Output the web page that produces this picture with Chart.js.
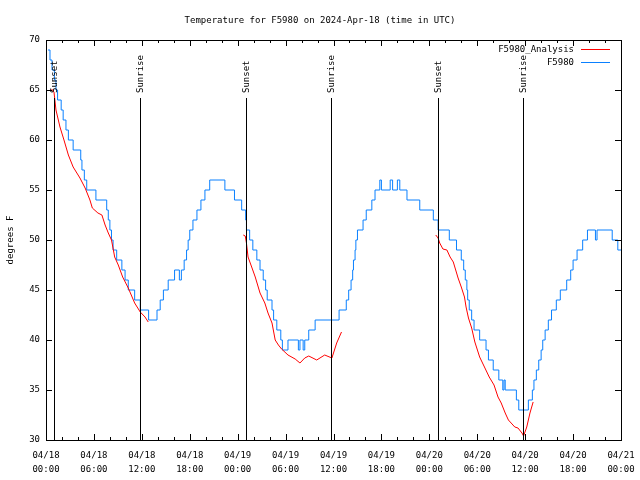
<!DOCTYPE html>
<html>
<head>
<meta charset="utf-8">
<script src="https://cdn.jsdelivr.net/npm/chart.js@4/dist/chart.umd.min.js"></script>
<style>
  html, body { margin: 0; padding: 0; background: #fff; }
</style>
</head>
<body>
<canvas id="tempChart" width="640" height="480"></canvas>
<script>
// hours since 04/18 00:00 UTC
var blueHours = [0.25, 0.5, 0.75, 1.05, 1.25, 1.45, 1.9, 2.15, 2.5, 2.8, 3.4, 4.35, 4.5, 4.8, 5.1,
  6.25, 7.6, 7.8, 8.0, 8.2, 8.4, 8.85, 9.5, 9.9, 10.3, 11.1, 11.8, 12.85, 13.9, 14.3, 14.7, 15.3,
  16.1, 16.7, 16.95, 17.3, 17.6, 17.8, 18.0, 18.4, 18.9, 19.4, 19.9, 20.5, 22.4, 23.6, 24.5, 25.0,
  25.1, 25.5, 25.9, 26.4, 26.8, 27.2, 27.5, 27.7, 28.3, 28.5, 28.9, 29.4, 29.6, 30.3, 31.6, 31.8,
  32.2, 32.4, 32.9, 33.7, 36.7, 37.6, 37.9, 38.2, 38.4, 38.5, 38.7, 38.8, 39.0, 39.7, 40.1, 40.8,
  41.2, 41.8, 42.0, 43.1, 43.4, 44.0, 44.3, 45.2, 46.8, 48.5, 49.1, 50.5, 51.4, 52.0, 52.3, 52.5,
  52.7, 52.8, 53.0, 53.3, 53.6, 54.3, 55.1, 55.4, 56.0, 56.7, 57.2, 57.35, 57.5, 58.9, 59.2, 60.4,
  60.9, 61.1, 61.4, 61.7, 62.0, 62.2, 62.5, 62.9, 63.3, 63.9, 64.4, 65.2, 65.7, 66.0, 66.5, 67.2,
  67.8, 68.8, 69.0, 70.9, 71.6, 72.0];
var blueTemps = [69, 68, 67, 66, 65, 64, 63, 62, 61, 60, 59, 58, 57, 56, 55,
  54, 53, 52, 51, 50, 49, 48, 47, 46, 45, 44, 43, 42, 43, 44, 45, 46,
  47, 46, 47, 48, 49, 50, 51, 52, 53, 54, 55, 56, 55, 54, 53, 52,
  51, 50, 49, 48, 47, 46, 45, 44, 43, 42, 41, 40, 39, 40, 39, 40,
  39, 40, 41, 42, 43, 44, 45, 46, 47, 48, 49, 50, 51, 52, 53, 54,
  55, 56, 55, 56, 55, 56, 55, 54, 53, 52, 51, 50, 49, 48, 47, 46,
  45, 44, 43, 42, 41, 40, 39, 38, 37, 36, 35, 36, 35, 34, 33, 34,
  35, 36, 37, 38, 39, 40, 41, 42, 43, 44, 45, 46, 47, 48, 49, 50,
  51, 50, 51, 50, 49, 49];

var redHours = [0.7, 1.0, 1.25, 1.75, 2.25, 2.8, 3.4, 4.25, 4.9, 5.5, 5.8, 6.5, 7.0, 7.4, 7.8, 8.2,
  8.6, 9.05, 9.6, 10.3, 11.1, 11.8, 12.4, 12.8, 13.0,
  24.7, 24.95, 25.1, 25.3, 25.8, 26.2, 26.8, 27.4, 27.8, 28.3, 28.7, 29.1, 29.5, 30.3, 31.2, 31.8,
  32.4, 32.9, 33.9, 34.9, 35.8, 36.4, 37.0, 38.0,
  48.8, 49.1, 49.3, 49.7, 50.2, 50.6, 51.0, 51.3, 51.6, 52.0, 52.4, 52.6, 52.9, 53.3, 53.7, 54.3,
  54.9, 55.5, 56.1, 56.6, 57.0, 57.5, 57.9, 58.7, 59.1, 59.6, 59.8, 60.2, 60.6, 61.0];
var redTemps = [65.1, 64.8, 63, 61.3, 60, 58.5, 57.3, 56.2, 55.2, 54, 53.2, 52.7, 52.5, 51.5, 50.7, 50,
  48.3, 47.5, 46.3, 45.2, 43.7, 42.8, 42.3, 41.8, null,
  50.5, 50.4, 49.7, 48.3, 47.2, 46.3, 44.7, 43.7, 42.7, 41.7, 40, 39.5, 39.1, 38.5, 38.1, 37.7,
  38.2, 38.4, 38, 38.5, 38.2, 39.7, 40.8, null,
  50.5, 50.2, 49.7, 49.1, 49, 48.3, 47.8, 47, 46.2, 45.3, 44.3, 43.3, 42.2, 41.2, 39.8, 38.3,
  37.3, 36.3, 35.5, 34.3, 33.7, 32.7, 32, 31.3, 31.2, 30.7, 30.4, 31.3, 32.7, 33.8];

var eventHours = [1.05, 11.8, 25.05, 35.7, 49.1, 59.75];
var eventNames = ["Sunset", "Sunrise", "Sunset", "Sunrise", "Sunset", "Sunrise"];

var xTickDates = ["04/18", "04/18", "04/18", "04/18", "04/19", "04/19", "04/19", "04/19",
  "04/20", "04/20", "04/20", "04/20", "04/21"];
var xTickTimes = ["00:00", "06:00", "12:00", "18:00", "00:00", "06:00", "12:00", "18:00",
  "00:00", "06:00", "12:00", "18:00", "00:00"];

var FONT = "'DejaVu Sans Mono', monospace";

function toPoints(xs, ys) {
  var pts = [];
  for (let i = 0; i < xs.length; ++i) pts.push({ x: xs[i], y: ys[i] });
  return pts;
}

// frame, inward tick marks, sunrise/sunset markers and legend
var decorPlugin = {
  id: "decor",
  afterDatasetsDraw: function (chart) {
    var ctx = chart.ctx;
    var a = chart.chartArea;
    var xs = chart.scales.x, ys = chart.scales.y;
    ctx.save();
    ctx.strokeStyle = "#000";
    ctx.lineWidth = 1;

    ctx.beginPath();
    xs.ticks.forEach(function (t) {
      var px = Math.round(xs.getPixelForValue(t.value)) + 0.5;
      var len = t.value % 6 === 0 ? 6 : 3;
      ctx.moveTo(px, a.bottom); ctx.lineTo(px, a.bottom - len);
      ctx.moveTo(px, a.top); ctx.lineTo(px, a.top + len);
    });
    ys.ticks.forEach(function (t) {
      var py = Math.round(ys.getPixelForValue(t.value)) + 0.5;
      ctx.moveTo(a.left, py); ctx.lineTo(a.left + 6, py);
      ctx.moveTo(a.right, py); ctx.lineTo(a.right - 6, py);
    });
    ctx.stroke();

    ctx.font = "9px " + FONT;
    ctx.fillStyle = "#000";
    for (let i = 0; i < eventHours.length; ++i) {
      var ex = Math.round(xs.getPixelForValue(eventHours[i])) + 0.5;
      ctx.beginPath();
      ctx.moveTo(ex, 98); ctx.lineTo(ex, a.bottom);
      ctx.stroke();
      ctx.save();
      ctx.translate(ex, 93);
      ctx.rotate(-Math.PI / 2);
      ctx.textAlign = "left";
      ctx.textBaseline = "middle";
      ctx.fillText(eventNames[i], 0, 0);
      ctx.restore();
    }

    ctx.strokeRect(Math.round(a.left) + 0.5, Math.round(a.top) + 0.5,
      Math.round(a.right - a.left), Math.round(a.bottom - a.top));

    ctx.textAlign = "right";
    ctx.textBaseline = "middle";
    chart.data.datasets.forEach(function (ds, i) {
      var ly = 50 + i * 13;
      ctx.fillStyle = "#000";
      ctx.fillText(ds.label, 574, ly);
      ctx.strokeStyle = ds.borderColor;
      ctx.beginPath();
      ctx.moveTo(581, ly - 0.5); ctx.lineTo(610, ly - 0.5);
      ctx.stroke();
    });
    ctx.restore();
  },
};

document.addEventListener("DOMContentLoaded", function () {
  var context = document.getElementById("tempChart").getContext("2d");

  new Chart(context, {
    type: "line",
    data: {
      datasets: [
        {
          label: "F5980_Analysis",
          data: toPoints(redHours, redTemps),
          borderColor: "#ff0000",
          borderWidth: 1,
          pointRadius: 0,
          spanGaps: false,
          tension: 0,
        },
        {
          label: "F5980",
          data: toPoints(blueHours, blueTemps),
          borderColor: "#0a80ff",
          borderWidth: 1,
          pointRadius: 0,
          stepped: true,
        },
      ],
    },
    options: {
      responsive: false,
      animation: false,
      layout: { padding: 0 },
      plugins: {
        legend: { display: false },
        tooltip: { enabled: false },
        title: {
          display: true,
          text: "Temperature for F5980 on 2024-Apr-18 (time in UTC)",
          color: "#000",
          font: { family: FONT, size: 9, weight: "normal", lineHeight: 1.2 },
          padding: { top: 15, bottom: 14.2 },
        },
      },
      scales: {
        x: {
          type: "linear",
          min: 0,
          max: 72,
          grid: { display: false, drawTicks: false },
          border: { display: false },
          afterFit: function (scale) {
            scale.height = 40;
            scale.paddingLeft = 0;
            scale.paddingRight = 19;
          },
          ticks: {
            stepSize: 2,
            autoSkip: false,
            maxRotation: 0,
            padding: 8,
            color: "#000",
            font: { family: FONT, size: 9, lineHeight: 1.6 },
            callback: function (v) {
              if (v % 6 !== 0) return "";
              return [xTickDates[v / 6], xTickTimes[v / 6]];
            },
          },
        },
        y: {
          min: 30,
          max: 70,
          grid: { display: false, drawTicks: false },
          border: { display: false },
          afterFit: function (scale) {
            scale.width = 46;
            scale.paddingTop = 0;
            scale.paddingBottom = 0;
          },
          title: {
            display: true,
            text: "degrees F",
            color: "#000",
            font: { family: FONT, size: 9 },
            padding: { top: 5, bottom: 0 },
          },
          ticks: {
            stepSize: 5,
            padding: 6,
            color: "#000",
            font: { family: FONT, size: 9 },
          },
        },
      },
    },
    plugins: [decorPlugin],
  });
});
</script>
</body>
</html>
